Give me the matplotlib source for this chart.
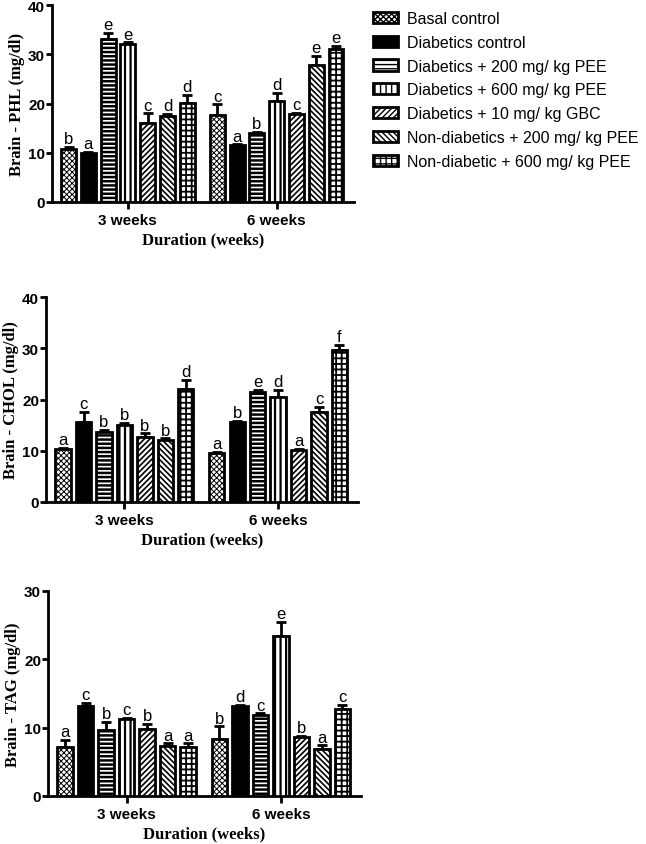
import numpy as np
import matplotlib
matplotlib.use('Agg')
import matplotlib.pyplot as plt

# groups and treatments
durations = ['3 weeks', '6 weeks']
treatments = ['Basal control', 'Diabetics control', 'Diabetics + 200 mg/ kg PEE',
              'Diabetics + 600 mg/ kg PEE', 'Diabetics + 10 mg/ kg GBC',
              'Non-diabetics + 200 mg/ kg PEE', 'Non-diabetic + 600 mg/ kg PEE']

# Brain - PHL
phl_3w = [10.8, 10.0, 33.0, 32.0, 16.0, 17.5, 20.2]
phl_3w_err = [0.4, 0.2, 1.3, 0.4, 2.0, 0.4, 1.5]
phl_6w = [17.7, 11.5, 14.1, 20.5, 17.8, 27.8, 31.1]
phl_6w_err = [2.1, 0.2, 0.2, 1.7, 0.3, 1.8, 0.6]
phl_letters_3w = ['b', 'a', 'e', 'e', 'c', 'd', 'd']
phl_letters_6w = ['c', 'a', 'b', 'd', 'c', 'e', 'e']

# Brain - CHOL
chol_3w = [10.3, 15.6, 13.6, 15.1, 12.7, 12.1, 22.1]
chol_3w_err = [0.2, 2.0, 0.5, 0.3, 0.7, 0.3, 1.8]
chol_6w = [9.6, 15.7, 21.5, 20.5, 10.2, 17.6, 29.7]
chol_6w_err = [0.2, 0.2, 0.4, 1.4, 0.2, 0.9, 0.9]
chol_letters_3w = ['a', 'c', 'b', 'b', 'b', 'b', 'd']
chol_letters_6w = ['a', 'b', 'e', 'd', 'a', 'c', 'f']

# Brain - TAG
tag_3w = [7.1, 13.1, 9.7, 11.2, 9.8, 7.3, 7.2]
tag_3w_err = [1.1, 0.5, 1.2, 0.2, 0.8, 0.4, 0.5]
tag_6w = [8.4, 13.2, 11.8, 23.4, 8.6, 6.9, 12.7]
tag_6w_err = [1.8, 0.1, 0.3, 2.1, 0.2, 0.5, 0.6]
tag_letters_3w = ['a', 'c', 'b', 'c', 'b', 'a', 'a']
tag_letters_6w = ['b', 'd', 'c', 'e', 'b', 'a', 'c']

# bar styles
faces = ['white', 'black', 'white', 'white', 'white', 'white', 'white']
hatches = ['xxxxxx', None, '----', '|||', '//////', '\\\\\\\\\\\\', '+++']
hatch_lw = [0.7, 1.0, 1.8, 1.6, 1.2, 1.2, 1.3]

sans = 'Liberation Sans'
serif = 'Liberation Serif'


def draw_panel(ax, v3, e3, v6, e6, l3, l6, ylabel, ymax, yticks):
    """Draws one grouped bar panel"""
    step = 0.133
    width = 0.1
    handles = []
    for i in range(len(treatments)):
        xs = np.arange(2) + (i - 3) * step
        vals = [v3[i], v6[i]]
        errs = [e3[i], e6[i]]
        bars = ax.bar(xs, vals, width, color=faces[i], edgecolor='black',
                      linewidth=2.0, hatch=hatches[i], label=treatments[i], zorder=3)
        for b in bars:
            if hasattr(b, 'set_hatch_linewidth'):
                b.set_hatch_linewidth(hatch_lw[i])
        handles.append(bars)
        ax.errorbar(xs, vals, yerr=[[0, 0], errs], fmt='none', ecolor='black',
                    elinewidth=2.0, capsize=3.5, capthick=2.0, zorder=2)
        for x, v, e, t in zip(xs, vals, errs, [l3[i], l6[i]]):
            ax.text(x, v + e + 0.15 * ymax / 40, t, ha='center', va='bottom',
                    fontsize=12, family=sans)

    ax.set_xlim(-0.51, 1.52)
    ax.set_ylim(0, ymax)
    ax.set_yticks(yticks)
    ax.set_xticks([0, 1])
    ax.set_xticklabels(durations, fontsize=11, fontweight='bold', family=sans)
    for lab in ax.get_yticklabels():
        lab.set_fontsize(11)
        lab.set_fontweight('bold')
        lab.set_family(sans)
    ax.spines['top'].set_visible(False)
    ax.spines['right'].set_visible(False)
    ax.spines['left'].set_linewidth(2.0)
    ax.spines['bottom'].set_linewidth(2.0)
    ax.tick_params(axis='y', width=2.0, length=4, pad=1)
    ax.tick_params(axis='x', width=2.0, length=5, pad=3)
    ax.set_ylabel(ylabel, fontsize=12, fontweight='bold', family=serif, labelpad=2)
    ax.set_xlabel('Duration (weeks)', fontsize=12, fontweight='bold',
                  family=serif, labelpad=3)
    return handles


W, H = 646, 845
fig = plt.figure(figsize=(W / 100, H / 100), dpi=100)


def add_axes(left, right, top, bottom):
    return fig.add_axes([left / W, 1 - bottom / H, (right - left) / W, (bottom - top) / H])


ax1 = add_axes(52, 354, 6, 203)
ax2 = add_axes(46, 358, 298, 503)
ax3 = add_axes(48, 361, 592, 797)

handles = draw_panel(ax1, phl_3w, phl_3w_err, phl_6w, phl_6w_err,
                     phl_letters_3w, phl_letters_6w, 'Brain - PHL (mg/dl)', 40, [0, 10, 20, 30, 40])
draw_panel(ax2, chol_3w, chol_3w_err, chol_6w, chol_6w_err,
           chol_letters_3w, chol_letters_6w, 'Brain - CHOL (mg/dl)', 40, [0, 10, 20, 30, 40])
draw_panel(ax3, tag_3w, tag_3w_err, tag_6w, tag_6w_err,
           tag_letters_3w, tag_letters_6w, 'Brain - TAG (mg/dl)', 30, [0, 10, 20, 30])

leg = fig.legend(handles, treatments, loc='upper left', bbox_to_anchor=(373 / W, 1 - 12 / H),
                 frameon=False, prop={'family': sans, 'size': 11.5},
                 handlelength=1.55, handleheight=0.7, handletextpad=0.55,
                 labelspacing=0.55, borderaxespad=0, borderpad=0)

fig.savefig('out.png', dpi=100)
